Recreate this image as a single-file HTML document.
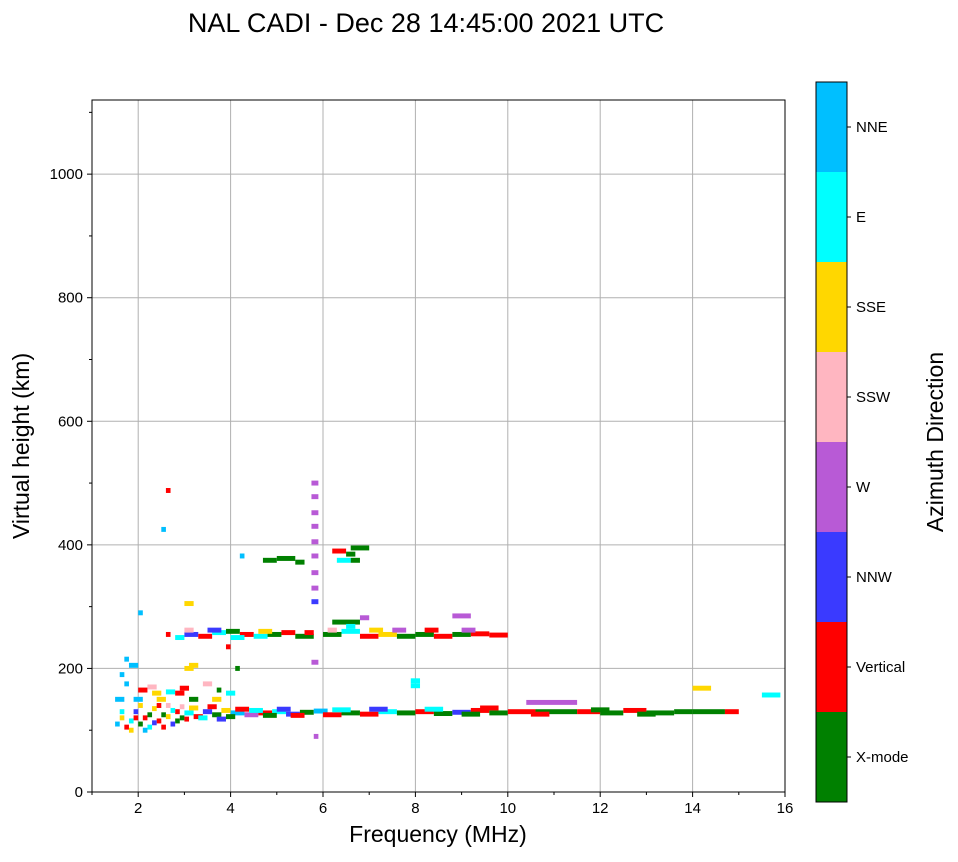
<!DOCTYPE html>
<html><head><meta charset="utf-8"><style>
body{margin:0;background:#fff;font-family:"Liberation Sans",sans-serif}
svg text{font-family:"Liberation Sans",sans-serif;fill:#000}
</style></head><body>
<svg id="chart" width="958" height="857" viewBox="0 0 958 857">
<text x="426" y="32" font-size="27" text-anchor="middle">NAL CADI - Dec 28 14:45:00 2021 UTC</text>
<g id="grid"></g>
<g id="marks"></g>
<rect x="92" y="100" width="693" height="692" fill="none" stroke="#000" stroke-width="1"/>
<g id="axes"></g>
<text x="438" y="842" font-size="23" text-anchor="middle">Frequency (MHz)</text>
<text transform="translate(29,446) rotate(-90)" font-size="23" text-anchor="middle">Virtual height (km)</text>
<g id="colorbar"></g>
<text transform="translate(943,442) rotate(-90)" font-size="23" text-anchor="middle">Azimuth Direction</text>
</svg>
<script>
const directions=["X-mode","Vertical","NNW","W","SSW","SSE","E","NNE"];
const dirColors=["#008000","#ff0000","#3a3aff","#b85ad6","#ffb6c1","#ffd700","#00ffff","#00bfff"];
const xTicks=[2,4,6,8,10,12,14,16];
const yTicks=[0,200,400,600,800,1000];
// [freqStart, freqEnd, heightKm, directionIndex]
const echoes=[
[1.5,1.6,110,7],[1.6,1.7,120,5],[1.7,1.8,105,1],[1.8,1.9,115,6],[1.9,2.0,130,2],[2.0,2.1,110,0],[2.1,2.2,120,1],[2.2,2.3,105,6],[2.3,2.4,135,5],[2.4,2.5,115,1],[2.5,2.6,125,0],[2.6,2.7,140,4],[2.7,2.8,110,2],[2.8,2.9,130,1],[2.9,3.0,120,0],[3.0,3.2,128,6],[3.2,3.4,122,1],[3.4,3.6,130,2],[3.6,3.8,125,0],[3.8,4.0,132,5],[4.0,4.3,128,7],[4.3,4.6,125,3],[4.6,4.9,128,1],[4.9,5.2,130,6],[5.2,5.5,126,2],[5.5,5.8,129,0],[5.8,6.1,131,7],[6.0,6.4,125,1],[6.4,6.8,128,0],[6.8,7.2,126,1],[7.2,7.6,130,6],[7.6,8.0,128,0],[8.0,8.4,130,1],[8.4,8.8,127,0],[8.8,9.2,129,2],[9.2,9.6,132,1],[9.6,10.0,128,0],[10.0,10.6,130,1],[10.4,11.5,145,3],[10.6,11.5,130,0],[11.5,12.0,130,1],[12.0,12.5,128,0],[12.5,13.0,132,1],[13.0,13.6,128,0],[13.6,14.0,130,0],[14.0,14.7,130,0],[14.7,15.0,130,1],[14.0,14.4,168,5],[15.5,15.9,157,6],[7.9,8.1,180,6],[7.9,8.1,172,6],[5.8,5.9,90,3],
[1.6,1.7,130,6],[1.8,1.9,100,5],[1.9,2.0,120,1],[2.0,2.1,140,5],[2.1,2.2,100,7],[2.2,2.3,125,0],[2.3,2.4,112,2],[2.4,2.5,140,1],[2.5,2.6,105,1],[2.6,2.7,122,5],[2.7,2.8,132,6],[2.8,2.9,115,0],[2.9,3.0,138,4],[3.0,3.1,118,1],[3.1,3.3,136,5],[3.3,3.5,120,6],[3.5,3.7,138,1],[3.7,3.9,118,2],[3.9,4.1,122,0],[4.1,4.4,134,1],[4.4,4.7,132,6],[4.7,5.0,124,0],[5.0,5.3,134,2],[5.3,5.6,124,1],[6.2,6.6,133,6],[7.0,7.4,134,2],[8.2,8.6,134,6],[9.0,9.4,126,0],[9.4,9.8,136,1],[10.5,10.9,126,1],[11.8,12.2,133,0],[12.8,13.2,126,0],
[1.5,1.7,150,7],[2.0,2.2,165,1],[2.3,2.5,160,5],[2.6,2.8,162,6],[2.9,3.1,168,1],[3.1,3.3,150,0],[3.6,3.8,150,5],[3.9,4.1,160,6],
[2.6,2.7,255,1],[2.8,3.0,250,6],[3.0,3.3,255,2],[3.3,3.6,252,1],[3.6,3.9,258,6],[3.9,4.2,260,0],[4.2,4.5,255,1],[4.5,4.8,252,6],[4.8,5.1,255,0],[5.1,5.4,258,1],[5.4,5.8,252,0],[6.0,6.4,255,0],[6.4,6.8,260,6],[6.8,7.2,252,1],[7.2,7.6,255,5],[7.6,8.0,252,0],[8.0,8.4,255,0],[8.4,8.8,252,1],[8.8,9.2,255,0],[9.2,9.6,256,1],[9.6,10.0,254,1],[6.2,6.8,275,0],[6.8,7.0,282,3],[8.8,9.2,285,3],[6.5,6.7,268,6],
[3.5,3.8,262,2],[4.0,4.3,250,6],[4.6,4.9,260,5],[5.6,5.8,258,1],[6.1,6.3,262,4],[7.0,7.3,262,5],[7.5,7.8,262,3],[8.2,8.5,262,1],[9.0,9.3,262,3],[3.0,3.2,262,4],
[4.7,5.0,375,0],[5.0,5.4,378,0],[5.4,5.6,372,0],[6.2,6.5,390,1],[6.5,6.7,385,0],[6.6,7.0,395,0],[6.3,6.6,375,6],[6.6,6.8,375,0],[4.2,4.3,382,7],
[5.75,5.9,500,3],[5.75,5.9,478,3],[5.75,5.9,452,3],[5.75,5.9,430,3],[5.75,5.9,405,3],[5.75,5.9,382,3],[5.75,5.9,355,3],[5.75,5.9,330,3],[5.75,5.9,308,2],[5.75,5.9,210,3],
[1.6,1.7,190,7],[1.7,1.8,215,7],[1.8,2.0,205,7],[1.7,1.8,175,7],[2.2,2.4,170,4],[2.5,2.6,425,7],[2.6,2.7,488,1],[3.0,3.2,200,5],[3.1,3.3,205,5],[2.8,3.0,160,1],[3.4,3.6,175,4],[3.0,3.2,305,5],[2.0,2.1,290,7],[3.9,4.0,235,1],[4.1,4.2,200,0],[3.7,3.8,165,0],[1.9,2.1,150,7],[2.4,2.6,150,5]
];
const NS="http://www.w3.org/2000/svg";
const X0=92,X1=785,Y0=792,Y1=100,FMIN=1,FMAX=16,HMIN=0,HMAX=1120;
function xs(f){return X0+(f-FMIN)/(FMAX-FMIN)*(X1-X0);}
function ys(h){return Y0-(h-HMIN)/(HMAX-HMIN)*(Y0-Y1);}
function mk(t,a,p){const e=document.createElementNS(NS,t);for(const k in a)e.setAttribute(k,a[k]);p.appendChild(e);return e;}
const grid=document.getElementById('grid'),axes=document.getElementById('axes'),marks=document.getElementById('marks'),cb=document.getElementById('colorbar');
xTicks.forEach(v=>{const x=xs(v);
 const g=mk('line',{x1:x,x2:x,y1:Y1,y2:Y0,stroke:'#b0b0b0','stroke-width':1},grid);
 
 mk('line',{x1:x,x2:x,y1:Y0,y2:Y0+5,stroke:'#000'},axes);
 const t=mk('text',{x:x,y:Y0+21,'font-size':15,'text-anchor':'middle'},axes);t.textContent=v;
 });
yTicks.forEach(v=>{const y=ys(v);
 const g=mk('line',{x1:X0,x2:X1,y1:y,y2:y,stroke:'#b0b0b0','stroke-width':1},grid);
 
 mk('line',{x1:X0-5,x2:X0,y1:y,y2:y,stroke:'#000'},axes);
 const t=mk('text',{x:X0-9,y:y+5,'font-size':15,'text-anchor':'end'},axes);t.textContent=v;
 });
for(let v=100;v<HMAX;v+=200){const y=ys(v);mk('line',{x1:X0-3,x2:X0,y1:y,y2:y,stroke:'#000'},axes);}
for(let v=1;v<=FMAX;v+=2){const x=xs(v);mk('line',{x1:x,x2:x,y1:Y0,y2:Y0+3,stroke:'#000'},axes);}
echoes.forEach(d=>{const x=xs(d[0]),w=xs(d[1])-x,y=ys(d[2]+4),h=ys(d[2]-4)-y;
 const r=mk('rect',{x:x,y:y,width:w,height:h,fill:dirColors[d[3]]},marks);
 });
const CB_T=82,CB_B=802,CBX=816,CBW=31,seg=(CB_B-CB_T)/directions.length;
directions.forEach((n,i)=>{const y=CB_B-(i+1)*seg;
 const r=mk('rect',{x:CBX,y:y,width:CBW,height:seg,fill:dirColors[i]},cb);
 
 mk('line',{x1:CBX+CBW,x2:CBX+CBW+4,y1:y+seg/2,y2:y+seg/2,stroke:'#000'},cb);
 const t=mk('text',{x:CBX+CBW+9,y:y+seg/2+5,'font-size':15},cb);t.textContent=n;
 });
mk('rect',{x:CBX,y:CB_T,width:CBW,height:CB_B-CB_T,fill:'none',stroke:'#000'},cb);
</script>
</body></html>
